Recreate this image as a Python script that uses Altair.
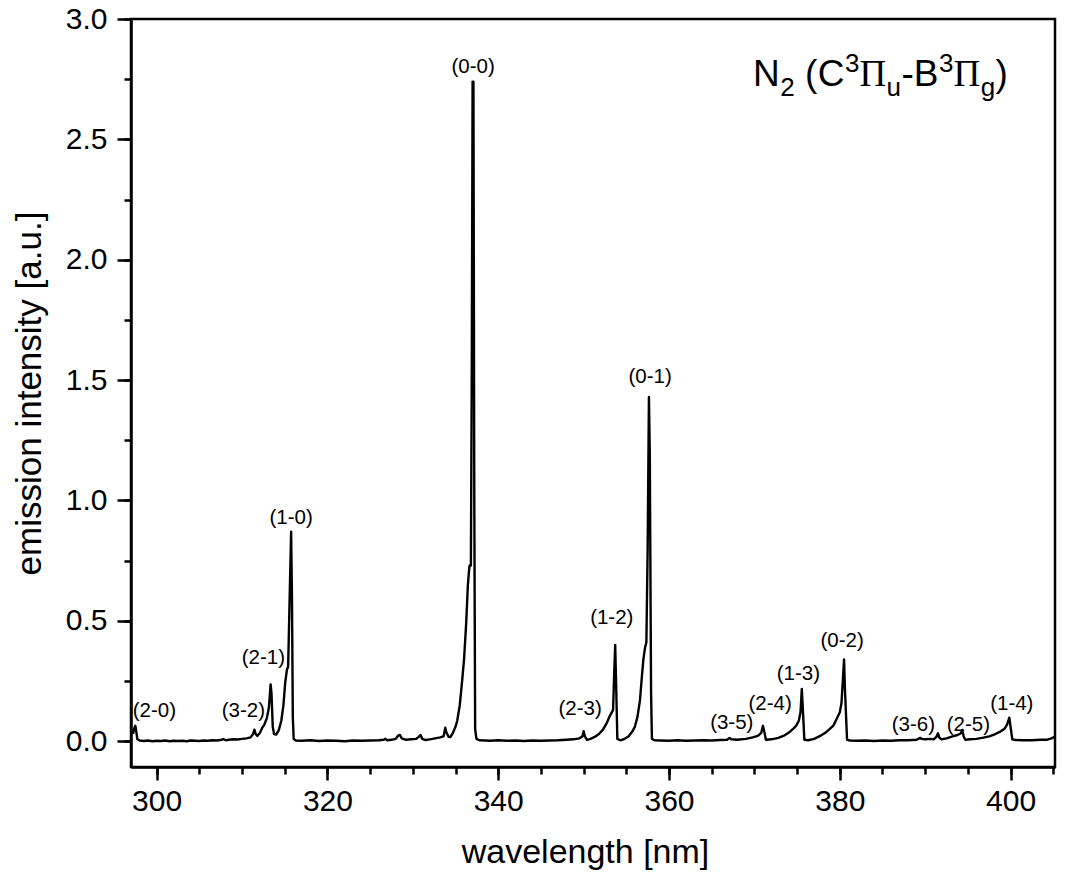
import altair as alt
import pandas as pd

# ---- spectrum (wavelength nm, intensity a.u.) ----
wavelength = [
    297.25, 297.35, 297.5, 297.6, 297.75, 298.0, 298.5, 299.0, 299.5, 300.0,
    300.5, 301.0, 301.5, 302.0, 302.5, 303.0, 303.5, 304.0, 304.5, 305.0,
    305.5, 306.0, 306.5, 307.0, 307.5, 307.8, 308.1, 308.5, 309.0, 309.5,
    310.0, 310.5, 311.0, 311.3, 311.45, 311.6, 311.8, 312.1, 312.4, 312.6,
    312.9, 313.15, 313.35, 313.45, 313.6, 313.75, 314.0, 314.3, 314.6, 314.85,
    315.05, 315.25, 315.4, 315.55, 315.75, 315.85, 315.95, 316.05, 316.3, 317.0,
    318.0, 319.0, 320.0, 321.0, 322.0, 323.0, 324.0, 325.0, 326.0, 326.6,
    326.8, 327.0, 327.5, 328.0, 328.3, 328.5, 328.7, 329.2, 329.8, 330.4,
    330.7, 330.9, 331.1, 331.5, 332.0, 332.6, 333.2, 333.6, 333.8, 333.95,
    334.2, 334.4, 334.7, 335.0, 335.2, 335.5, 335.8, 336.0, 336.25, 336.45,
    336.6, 336.65, 336.8, 336.9, 337.0, 337.1, 337.2, 337.3, 337.45, 337.8,
    338.5, 339.0, 340.0, 341.0, 342.0, 343.0, 344.0, 345.0, 346.0, 347.0,
    348.0, 348.8, 349.5, 349.85, 350.0, 350.15, 350.4, 350.8, 351.3, 351.8,
    352.3, 352.7, 353.0, 353.25, 353.45, 353.6, 353.7, 353.8, 353.95, 354.3,
    354.8, 355.25, 355.7, 356.0, 356.3, 356.6, 356.85, 357.0, 357.2, 357.35,
    357.5, 357.65, 357.75, 357.9, 358.0, 358.3, 359.0, 360.0, 361.0, 362.0,
    363.0, 364.0, 365.0, 366.0, 366.8, 367.1, 367.3, 368.0, 369.0, 369.8,
    370.4, 370.8, 371.0, 371.15, 371.35, 372.0, 372.8, 373.4, 374.0, 374.5,
    374.9, 375.2, 375.4, 375.55, 375.65, 375.85, 376.3, 377.0, 377.7, 378.3,
    378.8, 379.25, 379.6, 380.0, 380.2, 380.35, 380.5, 380.6, 380.85, 381.2,
    382.0, 383.0, 384.0, 385.0, 386.0, 387.0, 388.0, 389.0, 389.4, 389.6,
    390.0, 390.6, 391.0, 391.3, 391.5, 391.65, 391.9, 392.5, 393.2, 393.8,
    394.15, 394.35, 394.5, 394.7, 395.3, 396.0, 396.8, 397.5, 398.2, 398.8,
    399.3, 399.6, 399.85, 400.0, 400.2, 400.6, 401.5, 402.5, 403.5, 404.2,
    404.8, 405.2, 405.6, 405.9, 406.0,
]
intensity = [
    0.030, 0.050, 0.064, 0.045, 0.008, 0.003, 0.001, 0.003, 0.000, 0.002,
    0.001, 0.003, 0.000, 0.002, 0.001, 0.002, 0.000, 0.003, 0.002, 0.001,
    0.003, 0.002, 0.004, 0.003, 0.005, 0.009, 0.004, 0.006, 0.008, 0.007,
    0.010, 0.012, 0.016, 0.030, 0.048, 0.030, 0.022, 0.035, 0.058, 0.068,
    0.095, 0.140, 0.236, 0.200, 0.060, 0.030, 0.028, 0.045, 0.085, 0.150,
    0.240, 0.295, 0.310, 0.550, 0.870, 0.600, 0.100, 0.010, 0.003, 0.002,
    0.004, 0.001, 0.003, 0.002, 0.000, 0.003, 0.002, 0.003, 0.004, 0.006,
    0.010, 0.004, 0.006, 0.010, 0.024, 0.026, 0.012, 0.006, 0.008, 0.010,
    0.018, 0.026, 0.010, 0.005, 0.008, 0.012, 0.016, 0.020, 0.056, 0.035,
    0.018, 0.017, 0.035, 0.060, 0.085, 0.150, 0.260, 0.340, 0.490, 0.650,
    0.715, 0.730, 0.730, 1.500, 2.740, 2.740, 1.000, 0.050, 0.010, 0.004,
    0.003, 0.002, 0.004, 0.002, 0.003, 0.001, 0.003, 0.002, 0.003, 0.004,
    0.006, 0.008, 0.012, 0.020, 0.042, 0.020, 0.006, 0.010, 0.018, 0.030,
    0.050, 0.075, 0.100, 0.117, 0.130, 0.300, 0.400, 0.250, 0.010, 0.004,
    0.010, 0.020, 0.040, 0.060, 0.100, 0.170, 0.280, 0.340, 0.390, 0.410,
    0.800, 1.430, 1.200, 0.200, 0.010, 0.004, 0.003, 0.002, 0.004, 0.002,
    0.003, 0.004, 0.003, 0.005, 0.006, 0.014, 0.008, 0.006, 0.010, 0.016,
    0.022, 0.035, 0.064, 0.040, 0.006, 0.008, 0.014, 0.022, 0.035, 0.050,
    0.065, 0.085, 0.120, 0.217, 0.150, 0.006, 0.004, 0.010, 0.022, 0.035,
    0.050, 0.065, 0.090, 0.120, 0.160, 0.250, 0.340, 0.220, 0.006, 0.003,
    0.002, 0.003, 0.001, 0.003, 0.002, 0.004, 0.004, 0.006, 0.014, 0.010,
    0.008, 0.010, 0.008, 0.018, 0.033, 0.015, 0.008, 0.012, 0.020, 0.026,
    0.032, 0.047, 0.020, 0.006, 0.008, 0.010, 0.015, 0.020, 0.030, 0.040,
    0.052, 0.070, 0.098, 0.060, 0.008, 0.005, 0.004, 0.004, 0.006, 0.006,
    0.012, 0.020, 0.040, 0.085, 0.090,
]

# ---- band labels ----
band_labels = ["(2-0)", "(3-2)", "(2-1)", "(1-0)", "(0-0)", "(2-3)", "(1-2)", "(0-1)",
               "(3-5)", "(2-4)", "(1-3)", "(0-2)", "(3-6)", "(2-5)", "(1-4)"]
label_wl = [299.74, 310.16, 312.5, 315.75, 337.06, 349.59, 353.3, 357.79,
            367.35, 371.84, 375.15, 380.27, 388.62, 395.06, 400.14]
label_int = [0.124, 0.124, 0.344, 0.929, 2.80, 0.134, 0.512, 1.513,
             0.076, 0.155, 0.279, 0.417, 0.068, 0.068, 0.155]

x_major = [300, 320, 340, 360, 380, 400]
x_minor = list(range(300, 406, 5))
y_major = [0.0, 0.5, 1.0, 1.5, 2.0, 2.5, 3.0]
y_minor = [0.25 * i for i in range(13)]

FONT = "Liberation Sans"
W, H = 924, 748

x_scale = alt.Scale(domain=[297, 405.2], nice=False, zero=False)
y_scale = alt.Scale(domain=[-0.107, 3.0], nice=False, zero=False)

spec = pd.DataFrame({"wl": wavelength, "I": intensity})
labs = pd.DataFrame({"label": band_labels, "wl": label_wl, "I": label_int})

line = alt.Chart(spec).mark_line(
    color="black", strokeWidth=2.4, clip=True, strokeJoin="round"
).encode(
    x=alt.X("wl:Q", scale=x_scale, axis=alt.Axis(
        values=x_major, tickSize=13, tickWidth=2.5, domainWidth=2.5,
        domainColor="black", tickColor="black", grid=False,
        labelFont=FONT, labelFontSize=30, labelColor="black", labelPadding=6,
        labelFlush=False,
        title="wavelength [nm]", titleFont=FONT, titleFontSize=34,
        titleFontWeight="normal", titleColor="black",
        titleX=454, titleY=95, titleBaseline="alphabetic", orient="bottom")),
    y=alt.Y("I:Q", scale=y_scale, axis=alt.Axis(
        values=y_major, format=".1f", tickSize=14, tickWidth=2.5, domainWidth=2.5,
        domainColor="black", tickColor="black", grid=False,
        labelFont=FONT, labelFontSize=30, labelColor="black", labelPadding=10,
        labelFlush=False,
        title="emission intensity [a.u.]", titleFont=FONT, titleFontSize=35,
        titleFontWeight="normal", titleColor="black",
        titleX=-91, titleBaseline="alphabetic", orient="left")),
)

minor = alt.Chart(spec).mark_line(strokeOpacity=0).encode(
    x=alt.X("wl:Q", scale=x_scale, axis=alt.Axis(
        values=x_minor, tickSize=7, tickWidth=2.5, tickColor="black",
        labels=False, domain=False, grid=False, title=None, orient="bottom")),
    y=alt.Y("I:Q", scale=y_scale, axis=alt.Axis(
        values=y_minor, tickSize=7, tickWidth=2.5, tickColor="black",
        labels=False, domain=False, grid=False, title=None, orient="left")),
)

band_text = alt.Chart(labs).mark_text(
    font=FONT, fontSize=20.5, color="black", align="center", baseline="middle"
).encode(
    x=alt.X("wl:Q", scale=x_scale, axis=None),
    y=alt.Y("I:Q", scale=y_scale, axis=None),
    text="label:N",
)

# ---- title N2 (C3Πu-B3Πg) built from pieces ----
one = pd.DataFrame({"a": [0]})
base_x = 622
base_y = 67
MAIN = 37
SMALL = 26
k = 37 / 36
pieces = [
    ("N", 0, 0, MAIN, FONT),
    ("2", 26.5, 10, SMALL, FONT),
    ("(", 50.5, 0, MAIN, FONT),
    ("C", 63, 0, MAIN, FONT),
    ("3", 89.5, -14, SMALL, FONT),
    ("\u03a0", 103.5, 0, MAIN, "Liberation Serif"),
    ("u", 130, 10, SMALL, FONT),
    ("-", 144.5, 0, MAIN, FONT),
    ("B", 156.5, 0, MAIN, FONT),
    ("3", 181, -14, SMALL, FONT),
    ("\u03a0", 195, 0, MAIN, "Liberation Serif"),
    ("g", 221.5, 10, SMALL, FONT),
    (")", 236, 0, MAIN, FONT),
]
title_layers = []
for txt, dx, dy, fs, fnt in pieces:
    title_layers.append(
        alt.Chart(one).mark_text(
            font=fnt, fontSize=fs, color="black", align="left", baseline="alphabetic"
        ).encode(
            x=alt.value(base_x + dx * k), y=alt.value(base_y + dy * k),
            text=alt.value(txt)
        )
    )

chart = alt.layer(line, minor, band_text, *title_layers).resolve_axis(
    x="independent", y="independent"
).properties(
    width=W, height=H,
    autosize=alt.AutoSizeParams(type="none"),
    padding={"left": 123, "top": 11, "right": 2, "bottom": 103},
).configure_view(stroke="black", strokeWidth=2.5)

chart.save("out.html", embed_options={"renderer": "svg", "actions": False})
